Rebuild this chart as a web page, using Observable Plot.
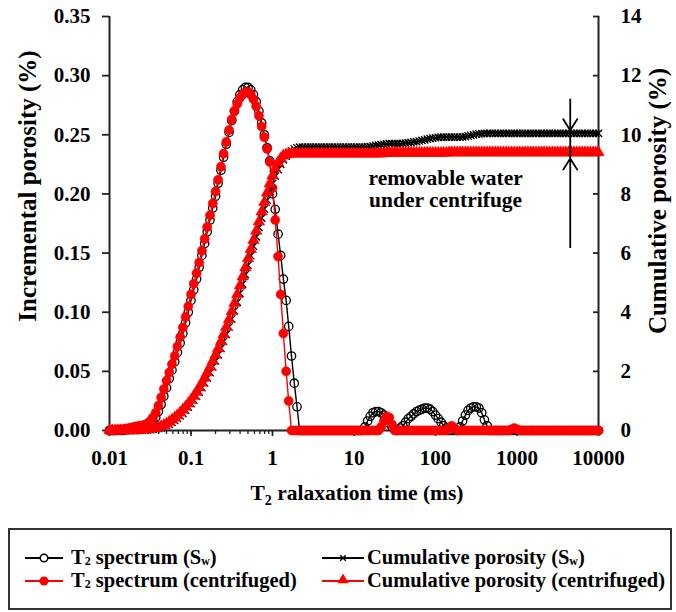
<!DOCTYPE html>
<html>
<head>
<meta charset="utf-8">
<script src="https://cdn.jsdelivr.net/npm/d3@7"></script>
<script src="https://cdn.jsdelivr.net/npm/@observablehq/plot@0.6"></script>
<style>
  body { margin: 0; background: #fff; }
  #wrap { position: relative; width: 676px; height: 612px; overflow: hidden;
          font-family: "Liberation Serif", "Times New Roman", serif; font-weight: bold; color: #000; }
  #chart { position: absolute; left: 0; top: 0; }
  #legend { position: absolute; left: 8px; top: 528px; width: 664px; height: 82px;
            box-sizing: border-box; border: 2px solid #333; background: #fff; }
  .lg-text { position: absolute; font-size: 20.5px; line-height: 18px; white-space: nowrap; }
  .lg-text .sub { font-size: 12px; position: relative; top: 1px; line-height: 0; }
</style>
</head>
<body>
<div id="wrap">
  <div id="chart"></div>
  <div id="legend"></div>
</div>
<script>
// T2 relaxation times (ms), 30 points per decade from 0.01 to 10000 ms
const T2 = [
  0.0100, 0.0108, 0.0117, 0.0126, 0.0136, 0.0147, 0.0158, 0.0171, 0.0185, 0.0200, 0.0215, 0.0233, 0.0251, 0.0271, 0.0293, 0.0316, 0.0341, 0.0369, 0.0398, 0.0430, 0.0464, 0.0501, 0.0541, 0.0584, 0.0631, 0.0681, 0.0736, 0.0794, 0.0858, 0.0926,
  0.100, 0.108, 0.117, 0.126, 0.136, 0.147, 0.158, 0.171, 0.185, 0.200, 0.215, 0.233, 0.251, 0.271, 0.293, 0.316, 0.341, 0.369, 0.398, 0.430, 0.464, 0.501, 0.541, 0.584, 0.631, 0.681, 0.736, 0.794, 0.858, 0.926,
  1.00, 1.08, 1.17, 1.26, 1.36, 1.47, 1.58, 1.71, 1.85, 2.00, 2.15, 2.33, 2.51, 2.71, 2.93, 3.16, 3.41, 3.69, 3.98, 4.30, 4.64, 5.01, 5.41, 5.84, 6.31, 6.81, 7.36, 7.94, 8.58, 9.26,
  10.0, 10.8, 11.7, 12.6, 13.6, 14.7, 15.8, 17.1, 18.5, 20.0, 21.5, 23.3, 25.1, 27.1, 29.3, 31.6, 34.1, 36.9, 39.8, 43.0, 46.4, 50.1, 54.1, 58.4, 63.1, 68.1, 73.6, 79.4, 85.8, 92.6,
  100, 108, 117, 126, 136, 147, 158, 171, 185, 200, 215, 233, 251, 271, 293, 316, 341, 369, 398, 430, 464, 501, 541, 584, 631, 681, 736, 794, 858, 926,
  1000, 1080, 1170, 1260, 1360, 1470, 1580, 1710, 1850, 2000, 2150, 2330, 2510, 2710, 2930, 3160, 3410, 3690, 3980, 4300, 4640, 5010, 5410, 5840, 6310, 6810, 7360, 7940, 8580, 9260,
  10000
];

// Incremental porosity (%), water-saturated sample (Sw)
const spectrumSw = [
  0, 0, 0, 0, 0, 0, 0.0005, 0.001, 0.0015, 0.002, 0.0025, 0.003, 0.003, 0.004, 0.005, 0.006, 0.008, 0.011, 0.016, 0.022, 0.029, 0.036, 0.044, 0.051, 0.058, 0.066, 0.074, 0.082, 0.091, 0.100,
  0.110, 0.119, 0.128, 0.138, 0.148, 0.158, 0.168, 0.178, 0.188, 0.198, 0.209, 0.220, 0.231, 0.242, 0.252, 0.262, 0.270, 0.278, 0.284, 0.288, 0.290, 0.290, 0.288, 0.284, 0.278, 0.270, 0.260, 0.250, 0.239, 0.228,
  0.200, 0.187, 0.166, 0.148, 0.128, 0.110, 0.088, 0.063, 0.040, 0.020, 0, 0, 0, 0, 0, 0, 0, 0, 0, 0, 0, 0, 0, 0, 0, 0, 0, 0, 0, 0,
  0, 0, 0, 0, 0.003, 0.008, 0.012, 0.015, 0.016, 0.016, 0.015, 0.013, 0.010, 0.006, 0.003, 0.001, 0, 0.002, 0.004, 0.007, 0.010, 0.012, 0.014, 0.016, 0.017, 0.018, 0.019, 0.019, 0.018, 0.016,
  0.013, 0.010, 0.007, 0.004, 0.002, 0, 0, 0, 0, 0.003, 0.008, 0.013, 0.017, 0.019, 0.020, 0.020, 0.019, 0.015, 0.009, 0.004, 0, 0, 0, 0, 0, 0, 0, 0, 0, 0,
  0, 0, 0, 0, 0, 0, 0, 0, 0, 0, 0, 0, 0, 0, 0, 0, 0, 0, 0, 0, 0, 0, 0, 0, 0, 0, 0, 0, 0, 0,
  0
];

// Incremental porosity (%), after centrifuging
const spectrumCentrifuged = [
  0, 0, 0, 0.0005, 0.001, 0.001, 0.0015, 0.002, 0.0025, 0.003, 0.0035, 0.004, 0.004, 0.005, 0.006, 0.008, 0.011, 0.015, 0.021, 0.028, 0.035, 0.042, 0.049, 0.056, 0.063, 0.071, 0.079, 0.087, 0.096, 0.105,
  0.115, 0.124, 0.133, 0.142, 0.152, 0.162, 0.172, 0.182, 0.192, 0.202, 0.212, 0.223, 0.234, 0.244, 0.254, 0.263, 0.270, 0.276, 0.281, 0.284, 0.286, 0.286, 0.284, 0.280, 0.274, 0.266, 0.257, 0.248, 0.238, 0.227,
  0.205, 0.178, 0.147, 0.115, 0.082, 0.050, 0.025, 0, 0, 0, 0, 0, 0, 0, 0, 0, 0, 0, 0, 0, 0, 0, 0, 0, 0, 0, 0, 0, 0, 0,
  0, 0, 0, 0, 0, 0, 0, 0, 0, 0, 0.003, 0.008, 0.012, 0.011, 0.005, 0, 0, 0, 0, 0, 0, 0, 0, 0, 0, 0, 0, 0, 0, 0,
  0, 0, 0, 0, 0, 0.002, 0.004, 0.002, 0, 0, 0, 0, 0, 0, 0, 0, 0, 0, 0, 0, 0, 0, 0, 0, 0, 0, 0, 0, 0.001, 0.002,
  0.001, 0, 0, 0, 0, 0, 0, 0, 0, 0, 0, 0, 0, 0, 0, 0, 0, 0, 0, 0, 0, 0, 0, 0, 0, 0, 0, 0, 0, 0,
  0
];

// Cumulative porosity (%), water-saturated sample (Sw)
const cumulativeSw = [
  0, 0, 0, 0, 0, 0, 0, 0, 0, 0, 0, 0.01, 0.01, 0.02, 0.02, 0.03, 0.04, 0.05, 0.07, 0.09, 0.12, 0.16, 0.21, 0.27, 0.34, 0.41, 0.49, 0.58, 0.68, 0.79,
  0.91, 1.03, 1.16, 1.30, 1.45, 1.61, 1.78, 1.96, 2.15, 2.35, 2.56, 2.78, 3.01, 3.25, 3.50, 3.77, 4.05, 4.34, 4.64, 4.95, 5.27, 5.59, 5.91, 6.23, 6.55, 6.87, 7.18, 7.49, 7.79, 8.08,
  8.35, 8.60, 8.82, 9.00, 9.15, 9.28, 9.38, 9.46, 9.52, 9.56, 9.58, 9.58, 9.58, 9.58, 9.58, 9.58, 9.58, 9.58, 9.58, 9.58, 9.58, 9.58, 9.58, 9.58, 9.58, 9.58, 9.58, 9.58, 9.58, 9.58,
  9.58, 9.58, 9.58, 9.58, 9.58, 9.59, 9.60, 9.62, 9.64, 9.65, 9.67, 9.68, 9.69, 9.70, 9.70, 9.70, 9.70, 9.70, 9.71, 9.72, 9.73, 9.74, 9.76, 9.77, 9.79, 9.81, 9.83, 9.85, 9.87, 9.89,
  9.90, 9.91, 9.92, 9.92, 9.92, 9.92, 9.92, 9.92, 9.92, 9.92, 9.93, 9.94, 9.96, 9.98, 10.00, 10.02, 10.03, 10.04, 10.05, 10.05, 10.05, 10.05, 10.05, 10.05, 10.05, 10.05, 10.05, 10.05, 10.05, 10.05,
  10.05, 10.05, 10.05, 10.05, 10.05, 10.05, 10.05, 10.05, 10.05, 10.05, 10.05, 10.05, 10.05, 10.05, 10.05, 10.05, 10.05, 10.05, 10.05, 10.05, 10.05, 10.05, 10.05, 10.05, 10.05, 10.05, 10.05, 10.05, 10.05, 10.05,
  10.05
];

// Cumulative porosity (%), after centrifuging
const cumulativeCentrifuged = [
  0, 0, 0, 0, 0, 0, 0, 0, 0, 0, 0.01, 0.01, 0.02, 0.03, 0.04, 0.05, 0.06, 0.08, 0.11, 0.14, 0.18, 0.23, 0.29, 0.36, 0.43, 0.51, 0.60, 0.70, 0.80, 0.91,
  1.03, 1.16, 1.30, 1.45, 1.61, 1.78, 1.96, 2.15, 2.35, 2.56, 2.78, 3.01, 3.25, 3.50, 3.76, 4.03, 4.31, 4.60, 4.90, 5.20, 5.51, 5.82, 6.13, 6.44, 6.75, 7.06, 7.40, 7.72, 8.04, 8.35,
  8.62, 8.86, 9.06, 9.20, 9.29, 9.33, 9.35, 9.36, 9.36, 9.36, 9.36, 9.36, 9.36, 9.36, 9.36, 9.36, 9.36, 9.36, 9.36, 9.36, 9.36, 9.36, 9.36, 9.36, 9.36, 9.36, 9.36, 9.36, 9.36, 9.36,
  9.36, 9.36, 9.36, 9.36, 9.36, 9.36, 9.36, 9.36, 9.36, 9.36, 9.36, 9.37, 9.38, 9.39, 9.39, 9.39, 9.39, 9.39, 9.39, 9.39, 9.39, 9.39, 9.39, 9.39, 9.39, 9.39, 9.39, 9.39, 9.39, 9.39,
  9.39, 9.39, 9.39, 9.39, 9.39, 9.40, 9.40, 9.40, 9.40, 9.40, 9.40, 9.40, 9.40, 9.40, 9.40, 9.40, 9.40, 9.40, 9.40, 9.40, 9.40, 9.40, 9.40, 9.40, 9.40, 9.40, 9.40, 9.40, 9.40, 9.40,
  9.40, 9.40, 9.40, 9.40, 9.40, 9.40, 9.40, 9.40, 9.40, 9.40, 9.40, 9.40, 9.40, 9.40, 9.40, 9.40, 9.40, 9.40, 9.40, 9.40, 9.40, 9.40, 9.40, 9.40, 9.40, 9.40, 9.40, 9.40, 9.40, 9.40,
  9.40
];

// Axis ticks and labels
const xTicks = [0.01, 0.1, 1, 10, 100, 1000, 10000];
const xTickLabels = ["0.01", "0.1", "1", "10", "100", "1000", "10000"];
const leftTicks = [0, 0.05, 0.10, 0.15, 0.20, 0.25, 0.30, 0.35];
const leftTickLabels = ["0.00", "0.05", "0.10", "0.15", "0.20", "0.25", "0.30", "0.35"];
const rightTicks = [0, 2, 4, 6, 8, 10, 12, 14];
const rightTickLabels = ["0", "2", "4", "6", "8", "10", "12", "14"];

// Annotation: a vertical double arrow marking the water removed by centrifuging
const noteT2 = 4500;
const arrowTop = 11.2, arrowBottom = 6.2;           // ends of the shaft (cumulative %)
const arrowTips = {down: 10.15, up: 9.2};           // arrowhead tips (cumulative %)
const noteText = "removable water\nunder centrifuge";
const notePosition = {t: 133, y: 0.204};

const series = [spectrumSw, spectrumCentrifuged, cumulativeSw, cumulativeCentrifuged];
series.forEach((s, i) => {
  if (s.length !== T2.length) throw new Error(`series ${i} has ${s.length} values, expected ${T2.length}`);
});

// The cumulative curves share the frame with the spectra: 0–14 % maps onto 0–0.35 %
const yMax = 0.35, cumMax = 14;
const k = yMax / cumMax;

const rows = T2.map((t, i) => ({
  t,
  sw: spectrumSw[i],
  cf: spectrumCentrifuged[i],
  csw: cumulativeSw[i] * k,
  ccf: cumulativeCentrifuged[i] * k
}));

const font = "'Liberation Serif', 'Times New Roman', serif";
const RED = "#ff0000";
const AXIS = "#222";

const W = 676, H = 520, mTop = 16, mBottom = 90;
const pxPerCum = (H - mTop - mBottom) / cumMax;
// the short upper arrow starts further up so that its head keeps full size; the inset hides the extra shaft
const upperLead = 2.0;

const chart = Plot.plot({
  width: W,
  height: H,
  marginLeft: 109,
  marginRight: 78,
  marginTop: mTop,
  marginBottom: mBottom,
  style: {fontFamily: font, fontSize: "21px", fontWeight: "bold", color: "#000", background: "#fff", overflow: "visible"},
  x: {type: "log", domain: [0.01, 10000], label: null},
  y: {domain: [0, yMax], label: null},
  marks: [
    // axes
    Plot.axisX({ticks: 40, tickSize: 4, tickFormat: () => "", strokeWidth: 1.3, stroke: AXIS, label: null}),
    Plot.axisX(xTicks, {tickSize: 6, tickPadding: 14, strokeWidth: 1.6, stroke: AXIS, label: null,
      tickFormat: d => xTickLabels[xTicks.indexOf(d)]}),
    Plot.axisY(leftTicks, {tickSize: 7, tickPadding: 12, strokeWidth: 1.8, stroke: AXIS, label: null,
      tickFormat: d => leftTickLabels[leftTicks.indexOf(d)]}),
    Plot.axisY(rightTicks.map(v => v * k), {anchor: "right", tickSize: 6, insetRight: 6, tickPadding: 22,
      strokeWidth: 1.8, stroke: AXIS, label: null,
      tickFormat: d => rightTickLabels[Math.round(d / k / 2)]}),
    Plot.ruleX([0.01], {stroke: AXIS, strokeWidth: 2}),
    Plot.ruleX([10000], {stroke: AXIS, strokeWidth: 2}),
    Plot.ruleY([0], {stroke: AXIS, strokeWidth: 2}),

    // T2 spectrum (Sw)
    Plot.line(rows, {x: "t", y: "sw", stroke: "#000", strokeWidth: 1.4}),
    Plot.dot(rows, {x: "t", y: "sw", r: 4.2, fill: "none", stroke: "#000", strokeWidth: 1.3}),
    // T2 spectrum (centrifuged)
    Plot.line(rows, {x: "t", y: "cf", stroke: RED, strokeWidth: 1.4}),
    Plot.dot(rows, {x: "t", y: "cf", r: 4.6, fill: RED, stroke: RED, strokeWidth: 0.5}),
    // Cumulative porosity (Sw)
    Plot.line(rows, {x: "t", y: "csw", stroke: "#000", strokeWidth: 1.4}),
    Plot.dot(rows, {x: "t", y: "csw", symbol: "times", r: 3.4, stroke: "#000", strokeWidth: 1.3}),
    // Cumulative porosity (centrifuged)
    Plot.line(rows, {x: "t", y: "ccf", stroke: RED, strokeWidth: 1.4}),
    Plot.dot(rows, {x: "t", y: "ccf", symbol: "triangle", r: 4.3, fill: RED, stroke: RED, strokeWidth: 0.5}),

    // annotation arrows
    Plot.arrow([{from: arrowTop + upperLead, to: arrowTips.down}], {
      x1: () => noteT2, x2: () => noteT2,
      y1: d => d.from * k, y2: d => d.to * k,
      insetStart: upperLead * pxPerCum,
      stroke: "#000", strokeWidth: 1.8, headLength: 11, headAngle: 64
    }),
    Plot.arrow([{from: arrowBottom, to: arrowTips.up}], {
      x1: () => noteT2, x2: () => noteT2,
      y1: d => d.from * k, y2: d => d.to * k,
      stroke: "#000", strokeWidth: 1.8, headLength: 11, headAngle: 64
    }),
    Plot.ruleX([noteT2], {y1: arrowTips.up * k, y2: arrowTips.down * k, stroke: "#000", strokeWidth: 1.8}),
    Plot.text([noteText], {x: () => notePosition.t, y: () => notePosition.y, text: d => d,
      fontSize: 21.5, lineHeight: 1.03, textAnchor: "middle", fill: "#000"})
  ]
});

// axis titles
const svg = d3.select(chart);
svg.append("text")
  .attr("transform", "translate(27,186) rotate(-90)")
  .attr("text-anchor", "middle")
  .attr("dominant-baseline", "central")
  .style("font-size", "25px")
  .text("Incremental porosity (%)");
svg.append("text")
  .attr("transform", "translate(657,201) rotate(-90)")
  .attr("text-anchor", "middle")
  .attr("dominant-baseline", "central")
  .style("font-size", "25px")
  .text("Cumulative porosity (%)");
const xTitle = svg.append("text")
  .attr("x", 357).attr("y", 500)
  .attr("text-anchor", "middle")
  .style("font-size", "21.5px");
xTitle.append("tspan").text("T");
xTitle.append("tspan").attr("dy", 5).style("font-size", "14px").text("2");
xTitle.append("tspan").attr("dy", -5).text(" ralaxation time (ms)");

document.getElementById("chart").appendChild(chart);

// legend
const legendItems = [
  {html: "T<span class='sub'>2</span> spectrum (S<span class='sub'>w</span>)", color: "#000", marker: "openCircle"},
  {html: "T<span class='sub'>2</span> spectrum (centrifuged)", color: RED, marker: "dot"},
  {html: "Cumulative porosity (S<span class='sub'>w</span>)", color: "#000", marker: "times"},
  {html: "Cumulative porosity (centrifuged)", color: RED, marker: "triangle"}
];
const legendCols = [{sym: 15, symW: 38, text: 61}, {sym: 312, symW: 42, text: 357}];
const legendRows = [28, 51];
const legend = d3.select("#legend");
legendItems.forEach((item, i) => {
  const col = legendCols[Math.floor(i / 2)];
  const row = legendRows[i % 2];
  const s = legend.append("svg")
    .attr("width", col.symW).attr("height", 14)
    .style("position", "absolute")
    .style("left", col.sym + "px")
    .style("top", (row - 7) + "px");
  const cx = col.symW / 2;
  s.append("line").attr("x1", 0).attr("x2", col.symW).attr("y1", 7).attr("y2", 7)
    .attr("stroke", item.color).attr("stroke-width", 2.2);
  if (item.marker === "openCircle") {
    s.append("circle").attr("cx", cx).attr("cy", 7).attr("r", 3.8)
      .attr("fill", "#fff").attr("stroke", item.color).attr("stroke-width", 1.5);
  } else if (item.marker === "dot") {
    s.append("circle").attr("cx", cx).attr("cy", 7).attr("r", 4.5).attr("fill", item.color);
  } else if (item.marker === "times") {
    s.append("path").attr("transform", `translate(${cx},7)`)
      .attr("d", d3.symbol(d3.symbolTimes, 22)())
      .attr("fill", "none").attr("stroke", item.color).attr("stroke-width", 1.5);
  } else {
    s.append("path").attr("transform", `translate(${cx},6)`)
      .attr("d", d3.symbol(d3.symbolTriangle, 55)())
      .attr("fill", item.color);
  }
  legend.append("div").attr("class", "lg-text")
    .style("left", col.text + "px")
    .style("top", (row - 10) + "px")
    .html(item.html);
});
</script>
</body>
</html>
